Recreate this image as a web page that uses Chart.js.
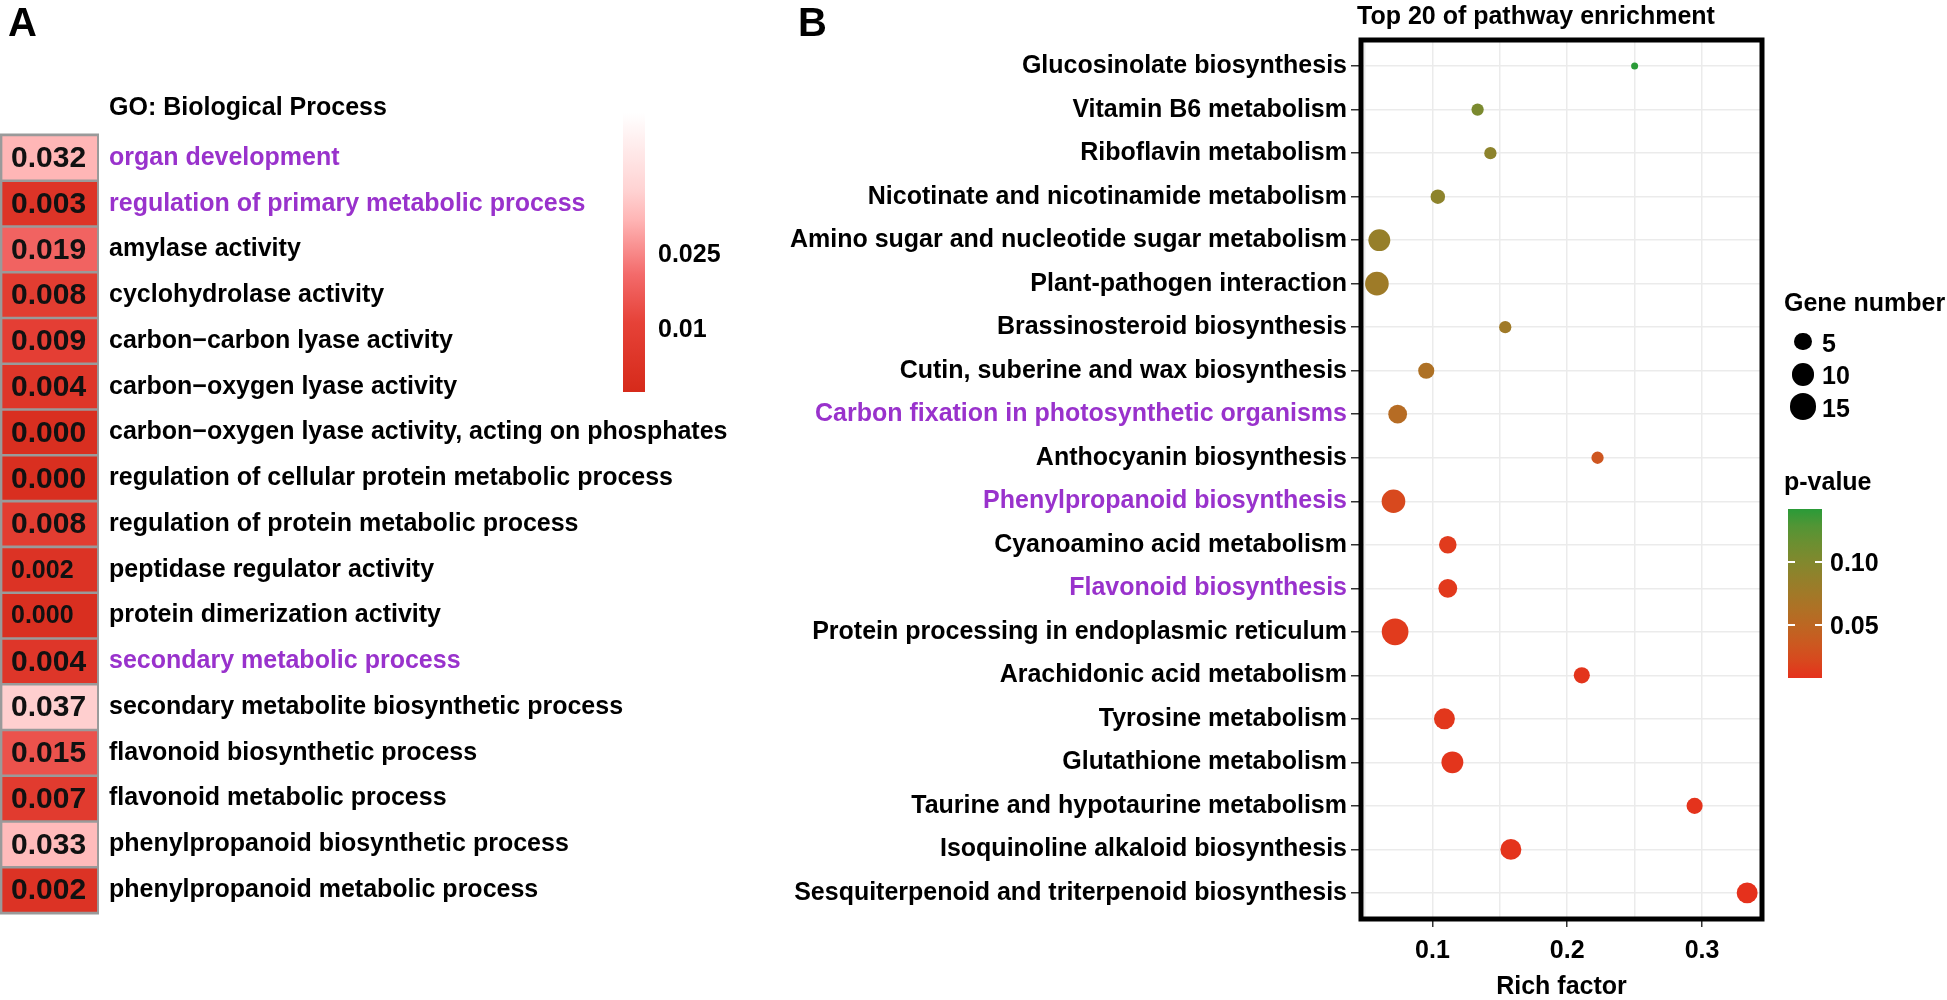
<!DOCTYPE html>
<html>
<head>
<meta charset="utf-8">
<script src="https://cdn.jsdelivr.net/npm/chart.js@4.4.1/dist/chart.umd.min.js"></script>
<style>
  html, body { margin: 0; padding: 0; background: #fff; }
  body { width: 1947px; height: 1000px; position: relative; overflow: hidden;
         font-family: "Liberation Sans", Arial, Helvetica, sans-serif; font-weight: bold; color: #000; }
  .abs { position: absolute; white-space: nowrap; line-height: 1; }
  #chartA { position: absolute; left: 0; top: 0; }
  #chartB { position: absolute; left: 760px; top: 0; }
</style>
</head>
<body>
<canvas id="chartA" width="760" height="1000"></canvas>
<canvas id="chartB" width="1187" height="1000"></canvas>
<div class="abs" style="left:8px;top:2px;font-size:40px">A</div>
<div class="abs" style="left:798px;top:2px;font-size:40px">B</div>
<div class="abs" style="left:109px;top:94px;font-size:25px">GO: Biological Process</div>
<div class="abs" style="left:1357px;top:3px;font-size:25px">Top 20 of pathway enrichment</div>
<div id="legends"></div>
<script>
// panel A: GO terms and their p-values
var goLabels = [
    'organ development',
    'regulation of primary metabolic process',
    'amylase activity',
    'cyclohydrolase activity',
    'carbon\u2212carbon lyase activity',
    'carbon\u2212oxygen lyase activity',
    'carbon\u2212oxygen lyase activity, acting on phosphates',
    'regulation of cellular protein metabolic process',
    'regulation of protein metabolic process',
    'peptidase regulator activity',
    'protein dimerization activity',
    'secondary metabolic process',
    'secondary metabolite biosynthetic process',
    'flavonoid biosynthetic process',
    'flavonoid metabolic process',
    'phenylpropanoid biosynthetic process',
    'phenylpropanoid metabolic process'
];
var goPValues = [0.032, 0.003, 0.019, 0.008, 0.009, 0.004, 0.000, 0.000, 0.008, 0.002, 0.000, 0.004, 0.037, 0.015, 0.007, 0.033, 0.002];
var goHighlighted = ['organ development', 'regulation of primary metabolic process', 'secondary metabolic process'];
var goScaleTicks = [0.025, 0.01];
var goScaleMin = -0.003, goScaleMax = 0.0534;

// panel B: top 20 pathways
var pathways = [
    'Glucosinolate biosynthesis',
    'Vitamin B6 metabolism',
    'Riboflavin metabolism',
    'Nicotinate and nicotinamide metabolism',
    'Amino sugar and nucleotide sugar metabolism',
    'Plant-pathogen interaction',
    'Brassinosteroid biosynthesis',
    'Cutin, suberine and wax biosynthesis',
    'Carbon fixation in photosynthetic organisms',
    'Anthocyanin biosynthesis',
    'Phenylpropanoid biosynthesis',
    'Cyanoamino acid metabolism',
    'Flavonoid biosynthesis',
    'Protein processing in endoplasmic reticulum',
    'Arachidonic acid metabolism',
    'Tyrosine metabolism',
    'Glutathione metabolism',
    'Taurine and hypotaurine metabolism',
    'Isoquinoline alkaloid biosynthesis',
    'Sesquiterpenoid and triterpenoid biosynthesis'
];
var richFactor = [0.250, 0.1335, 0.143, 0.104, 0.0606, 0.0588, 0.154, 0.0954, 0.0742, 0.2225, 0.0711, 0.1114, 0.1114, 0.0723, 0.2108, 0.1089, 0.1148, 0.2945, 0.1582, 0.3335];
var geneNumber = [1, 2, 2, 3, 9, 11, 2, 4, 6, 2, 11, 5, 6, 15, 4, 8, 9, 4, 8, 8];
var pValue = [0.1429, 0.105, 0.092, 0.092, 0.085, 0.078, 0.076, 0.063, 0.056, 0.032, 0.021, 0.012, 0.011, 0.012, 0.009, 0.010, 0.009, 0.008, 0.0085, 0.0072];
var pathwayHighlighted = ['Carbon fixation in photosynthetic organisms', 'Phenylpropanoid biosynthesis', 'Flavonoid biosynthesis'];
var richTicks = [0.1, 0.2, 0.3];
var richMinorTicks = [0.05, 0.15, 0.25];
var richMin = 0.047, richMax = 0.3445;
var sizeBreaks = [5, 10, 15];
var pBreaks = [0.10, 0.05];

var purple = '#9932CC';
var fontFamily = '"Liberation Sans", Arial, Helvetica, sans-serif';
var compactValueRows = [9, 10];
Chart.defaults.font.family = fontFamily;
Chart.defaults.font.weight = 'bold';
Chart.defaults.color = '#000';

// ---- colours ----
function hexToRgb(h) {
    return [parseInt(h.slice(1, 3), 16), parseInt(h.slice(3, 5), 16), parseInt(h.slice(5, 7), 16)];
}
function rgbToLab(c) {
    var r = c.map(function(v) { v /= 255; return v > 0.04045 ? Math.pow((v + 0.055) / 1.055, 2.4) : v / 12.92; });
    var x = (r[0] * 0.4124 + r[1] * 0.3576 + r[2] * 0.1805) / 0.95047,
        y = r[0] * 0.2126 + r[1] * 0.7152 + r[2] * 0.0722,
        z = (r[0] * 0.0193 + r[1] * 0.1192 + r[2] * 0.9505) / 1.08883;
    var f = function(t) { return t > 0.008856 ? Math.cbrt(t) : 7.787 * t + 16 / 116; };
    return [116 * f(y) - 16, 500 * (f(x) - f(y)), 200 * (f(y) - f(z))];
}
function labToRgb(l) {
    var fy = (l[0] + 16) / 116, fx = fy + l[1] / 500, fz = fy - l[2] / 200;
    var inv = function(t) { return t * t * t > 0.008856 ? t * t * t : (t - 16 / 116) / 7.787; };
    var x = inv(fx) * 0.95047, y = inv(fy), z = inv(fz) * 1.08883;
    var r = [x * 3.2406 - y * 1.5372 - z * 0.4986, -x * 0.9689 + y * 1.8758 + z * 0.0415, x * 0.0557 - y * 0.2040 + z * 1.0570];
    return r.map(function(v) {
        v = v > 0.0031308 ? 1.055 * Math.pow(v, 1 / 2.4) - 0.055 : 12.92 * v;
        return Math.round(Math.max(0, Math.min(1, v)) * 255);
    });
}

var pMin = Math.min.apply(null, pValue), pMax = Math.max.apply(null, pValue);
var lowLab = rgbToLab(hexToRgb('#E5311C')), highLab = rgbToLab(hexToRgb('#2A9B38'));
function pColorAt(t) {
    var lab = lowLab.map(function(v, k) { return v + (highLab[k] - v) * t; });
    return 'rgb(' + labToRgb(lab).join(',') + ')';
}
function pColor(p) {
    return pColorAt(Math.max(0, Math.min(1, (p - pMin) / (pMax - pMin))));
}

var goStops = [[0, '#d62a1a'], [0.25, '#e64238'], [0.42, '#f36a6a'], [0.62, '#ffb6b6'], [0.72, '#ffd2d2'], [1, '#ffffff']];
function goT(v) { return (v - goScaleMin) / (goScaleMax - goScaleMin); }
function goColor(v) {
    var t = Math.max(0, Math.min(1, goT(v)));
    for (var i = 1; i < goStops.length; i++) {
        if (t <= goStops[i][0]) {
            var a = hexToRgb(goStops[i - 1][1]), b = hexToRgb(goStops[i][1]),
                k = (t - goStops[i - 1][0]) / (goStops[i][0] - goStops[i - 1][0]);
            return 'rgb(' + a.map(function(v, j) { return Math.round(v + (b[j] - v) * k); }).join(',') + ')';
        }
    }
    return goStops[goStops.length - 1][1];
}

// point diameter, ggplot area scale
var nMin = Math.min.apply(null, geneNumber), nMax = Math.max.apply(null, geneNumber);
function sizeFor(n) {
    return 7 + 19.7 * Math.sqrt(Math.max(0, (n - nMin) / (nMax - nMin)));
}

// ---- panel A ----
var cellPlugin = {
    id: 'cells',
    beforeDatasetsDraw: function(chart) {
        var a = chart.chartArea, ctx = chart.ctx;
        ctx.save();
        ctx.fillStyle = '#9a9a9a';
        ctx.fillRect(a.left, a.top - 1.5, a.right - a.left, a.bottom - a.top + 3);
        ctx.restore();
    },
    afterDatasetsDraw: function(chart) {
        var ctx = chart.ctx;
        ctx.save();
        ctx.fillStyle = '#111';
        ctx.textBaseline = 'middle';
        ctx.textAlign = 'left';
        chart.getDatasetMeta(0).data.forEach(function(bar, i) {
            var size = compactValueRows.indexOf(i) >= 0 ? 25 : 30;
            ctx.font = 'bold ' + size + 'px ' + fontFamily;
            ctx.fillText(goPValues[i].toFixed(3), bar.base + 11, bar.y + 1);
        });
        ctx.restore();
    }
};

new Chart(document.getElementById('chartA'), {
    type: 'bar',
    data: {
        labels: goLabels,
        datasets: [{
            data: goLabels.map(function() { return 1; }),
            backgroundColor: goPValues.map(goColor),
            borderColor: '#9a9a9a',
            borderWidth: {left: 2.7, right: 2.3, top: 1.6, bottom: 1.6},
            borderSkipped: false,
            barPercentage: 1,
            categoryPercentage: 1
        }]
    },
    options: {
        responsive: false,
        animation: false,
        events: [],
        indexAxis: 'y',
        layout: {padding: {left: 0, right: 0, top: 135, bottom: 87}},
        plugins: {legend: {display: false}, tooltip: {enabled: false}},
        scales: {
            x: {display: false, min: 0, max: 1},
            y: {
                position: 'right',
                grid: {display: false, drawTicks: false},
                border: {display: false},
                ticks: {
                    crossAlign: 'near',
                    padding: 10,
                    autoSkip: false,
                    font: {size: 25, weight: 'bold'},
                    color: function(c) {
                        return goHighlighted.indexOf(goLabels[c.index]) >= 0 ? purple : '#000';
                    }
                },
                afterFit: function(s) { s.width = 661; }
            }
        }
    },
    plugins: [cellPlugin]
});

// ---- panel B ----
var framePlugin = {
    id: 'frame',
    afterDatasetsDraw: function(chart) {
        var a = chart.chartArea, ctx = chart.ctx;
        ctx.save();
        ctx.lineWidth = 5;
        ctx.strokeStyle = '#000';
        ctx.strokeRect(a.left, a.top, a.right - a.left, a.bottom - a.top);
        ctx.restore();
    }
};
function isMajor(v) {
    return richTicks.some(function(t) { return Math.abs(t - v) < 1e-9; });
}

new Chart(document.getElementById('chartB'), {
    type: 'bubble',
    data: {
        datasets: [{
            data: pathways.map(function(p, i) {
                return {x: richFactor[i], y: i, r: sizeFor(geneNumber[i]) / 2};
            }),
            backgroundColor: pValue.map(pColor),
            borderWidth: 0
        }]
    },
    options: {
        responsive: false,
        animation: false,
        events: [],
        layout: {padding: {left: 0, right: 185, top: 40, bottom: 0}},
        plugins: {legend: {display: false}, tooltip: {enabled: false}},
        scales: {
            x: {
                type: 'linear',
                min: richMin,
                max: richMax,
                afterBuildTicks: function(s) {
                    s.ticks = richMinorTicks.concat(richTicks).sort().map(function(v) { return {value: v}; });
                },
                grid: {
                    color: '#ebebeb', lineWidth: 1.5, tickLength: 8, tickWidth: 1.5,
                    tickColor: function(c) { return c.tick && isMajor(c.tick.value) ? '#333' : 'rgba(0,0,0,0)'; }
                },
                border: {display: false},
                ticks: {
                    autoSkip: false, maxRotation: 0, padding: 9,
                    font: {size: 25, weight: 'bold'}, color: '#000',
                    callback: function(v) { return isMajor(v) ? v.toFixed(1) : ''; }
                },
                title: {display: true, text: 'Rich factor', color: '#000', padding: 0,
                        font: {size: 25, weight: 'bold', lineHeight: 1}},
                afterFit: function(s) { s.height = 81; }
            },
            y: {
                type: 'linear',
                reverse: true,
                min: -0.6,
                max: pathways.length - 0.4,
                afterBuildTicks: function(s) {
                    s.ticks = pathways.map(function(p, i) { return {value: i}; });
                },
                grid: {color: '#ebebeb', lineWidth: 1.5, tickLength: 10, tickWidth: 1.5, tickColor: '#333'},
                border: {display: false},
                ticks: {
                    autoSkip: false, padding: 4,
                    font: {size: 25, weight: 'bold'},
                    color: function(c) {
                        var name = pathways[c.tick ? c.tick.value : c.index];
                        return pathwayHighlighted.indexOf(name) >= 0 ? purple : '#000';
                    },
                    callback: function(v) { return pathways[v]; }
                },
                afterFit: function(s) { s.width = 601; }
            }
        }
    },
    plugins: [framePlugin]
});

// ---- legends (html) ----
var html = [];
function text(str, left, top, size) {
    html.push('<div class="abs" style="left:' + left + 'px;top:' + top + 'px;font-size:' + (size || 25) + 'px">' + str + '</div>');
}

// GO colour bar
var goBar = {left: 623, top: 113, width: 22, height: 279};
var goGrad = goStops.map(function(s) { return s[1] + ' ' + (s[0] * 100) + '%'; }).join(',');
html.push('<div style="position:absolute;left:' + goBar.left + 'px;top:' + goBar.top + 'px;width:' + goBar.width +
    'px;height:' + goBar.height + 'px;background:linear-gradient(to top,' + goGrad + ')"></div>');
goScaleTicks.forEach(function(v) {
    var y = goBar.top + goBar.height * (1 - goT(v));
    text(String(v), 658, Math.round(y - 12), 25);
});

// gene number legend
text('Gene number', 1784, 290, 25);
var sizeRowY = [341.7, 374.3, 406.7];
sizeBreaks.forEach(function(n, i) {
    var d = sizeFor(n);
    html.push('<div style="position:absolute;left:' + (1803 - d / 2) + 'px;top:' + (sizeRowY[i] - d / 2) +
        'px;width:' + d + 'px;height:' + d + 'px;border-radius:50%;background:#000"></div>');
    text(String(n), 1822, Math.round(sizeRowY[i] - 11), 25);
});

// p-value colour bar
text('p-value', 1784, 469, 25);
var pBar = {left: 1788, top: 509, width: 34, height: 169};
var pGrad = [];
for (var s = 0; s <= 10; s++) pGrad.push(pColorAt(s / 10) + ' ' + (s * 10) + '%');
html.push('<div style="position:absolute;left:' + pBar.left + 'px;top:' + pBar.top + 'px;width:' + pBar.width +
    'px;height:' + pBar.height + 'px;background:linear-gradient(to top,' + pGrad.join(',') + ')"></div>');
pBreaks.forEach(function(p) {
    var y = pBar.top + pBar.height * (1 - (p - pMin) / (pMax - pMin));
    html.push('<div style="position:absolute;left:' + pBar.left + 'px;top:' + (y - 1) + 'px;width:7px;height:2px;background:#fff"></div>');
    html.push('<div style="position:absolute;left:' + (pBar.left + pBar.width - 7) + 'px;top:' + (y - 1) + 'px;width:7px;height:2px;background:#fff"></div>');
    text(p.toFixed(2), 1830, Math.round(y - 12), 25);
});

document.getElementById('legends').innerHTML = html.join('');
</script>
</body>
</html>
